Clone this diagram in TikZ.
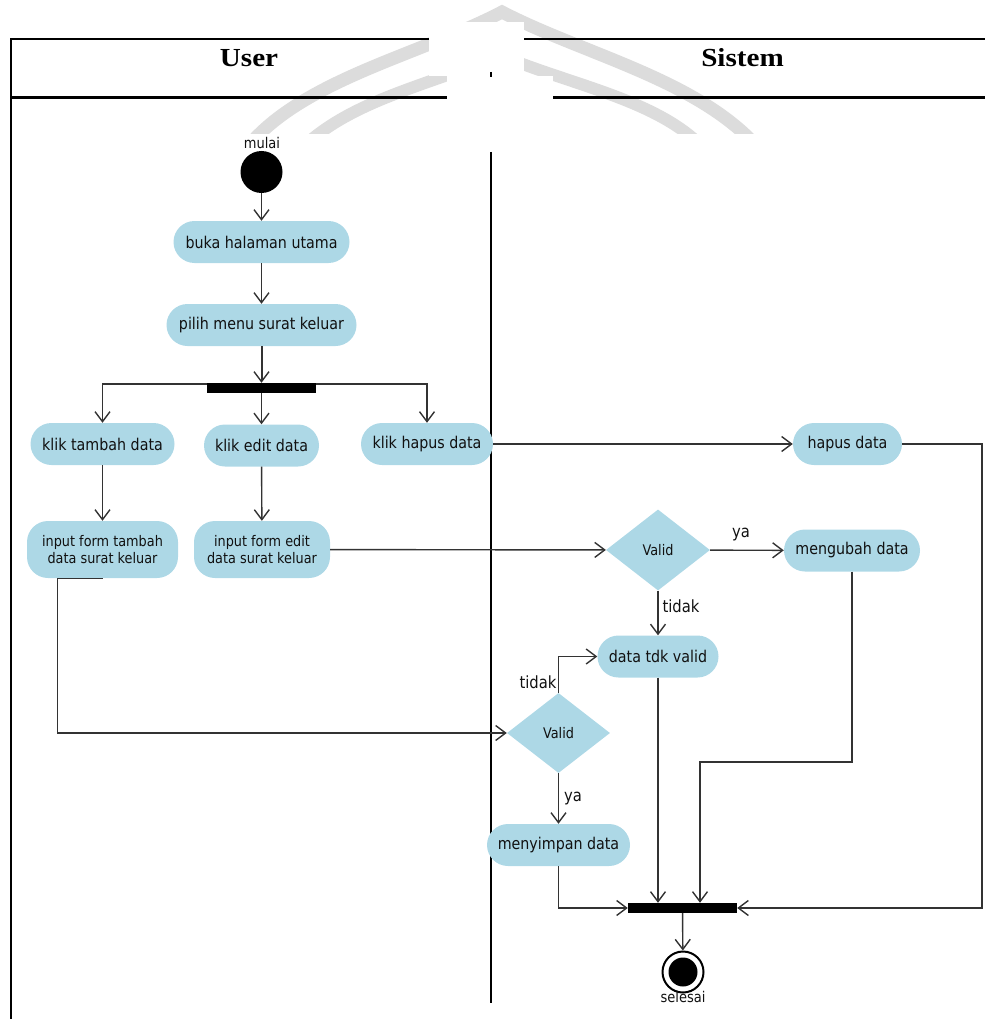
\documentclass[tikz,border=0pt]{standalone}
\usepackage{fontspec}
\setmainfont{DejaVu Sans}[FakeStretch=0.88]
\newfontfamily\hdrfont{Liberation Serif}[FakeStretch=1.12]
\usetikzlibrary{arrows.meta,shapes.geometric,calc}
\definecolor{actfill}{HTML}{ADD8E6}
\definecolor{linecol}{HTML}{333333}
\definecolor{txtcol}{HTML}{111111}
\definecolor{wmark}{HTML}{DCDCDC}

\begin{document}
\begin{tikzpicture}[x=1pt,y=-1pt,
  act/.style={shape=rectangle, fill=actfill, rounded corners=21pt, minimum height=42pt,
    inner sep=0pt, text=txtcol, font=\fontsize{16.2}{18}\selectfont, align=center},
  act2/.style={act, minimum height=57pt, font=\fontsize{14.6}{17}\selectfont},
  dec/.style={shape=diamond, fill=actfill, inner sep=0pt, minimum width=104pt,
    minimum height=81pt, text=txtcol, font=\fontsize{14.6}{16}\selectfont},
  bar/.style={shape=rectangle, fill=black, inner sep=0pt, minimum width=109pt, minimum height=10pt},
  flow/.style={draw=linecol, line width=1.4pt,
    -{Straight Barb[length=10pt,width=15pt,line width=1.4pt]}},
  lbl/.style={text=txtcol, font=\fontsize{16.8}{18}\selectfont, inner sep=0pt},
  small/.style={text=txtcol, font=\fontsize{14.8}{16}\selectfont, inner sep=0pt},
  frame/.style={draw=black, line width=2.6pt},
  hdr/.style={font=\hdrfont\bfseries\fontsize{26}{30}\selectfont, inner sep=0pt}
]
\useasboundingbox (0,0) rectangle (985,1019);

% faint background emblem
\begin{scope}
  \clip (0,0) rectangle (985,134);
  \draw[wmark, line width=13pt] (245,150) .. controls (300,80) and (420,55) .. (502,12)
    .. controls (585,55) and (700,80) .. (760,150);
  \draw[wmark, line width=12pt] (300,150) .. controls (350,100) and (430,85) .. (500,55)
    .. controls (570,85) and (660,100) .. (705,150);
\end{scope}
\fill[white] (429,22) rectangle (524,76);
\fill[white] (447,76) rectangle (553,134);

% swimlane frame
\draw[frame] (429,39) -- (11,39) -- (11,1019);
\draw[frame] (524,39) -- (985,39);
\draw[frame] (11,97.5) -- (447,97.5);
\draw[frame] (553,97.5) -- (985,97.5);
\draw[black, line width=1.6pt] (491,72) -- (491,77);
\draw[black, line width=1.6pt] (491,152) -- (491,1003);
\node[hdr] (userH) at (249,58) {User};
\node[hdr] (sysH) at (742.5,58) {Sistem};

% user lane
\node[circle, fill=black, minimum size=42pt, inner sep=0pt] (start) at (261.5,172) {};
\node[small] (startL) at (262,143) {mulai};
\node[act, minimum width=176pt] (buka) at (261.5,242) {buka halaman utama};
\node[act, minimum width=190pt] (pilih) at (261.5,325) {pilih menu surat keluar};
\node[bar] (fork) at (261.5,388) {};
\node[act, minimum width=144pt] (tambah) at (102.5,444) {klik tambah data};
\node[act, minimum width=115pt] (edit) at (261.5,445.5) {klik edit data};
\node[act, minimum width=132pt] (hapusk) at (427,444) {klik hapus data};
\node[act2, minimum width=151pt] (inTambah) at (102.5,549.5) {input form tambah\\data surat keluar};
\node[act2, minimum width=136pt] (inEdit) at (262,549.5) {input form edit\\data surat keluar};

% system lane
\node[act, minimum width=109pt] (hapusd) at (847.5,444) {hapus data};
\node[dec] (valid1) at (658,550) {Valid};
\node[act, minimum width=136pt] (mengubah) at (852,550.5) {mengubah data};
\node[act, minimum width=121pt] (datatdk) at (658,656.5) {data tdk valid};
\node[dec, minimum width=103pt, minimum height=80pt] (valid2) at (558.5,733) {Valid};
\node[act, minimum width=143pt] (menyimpan) at (558.5,845) {menyimpan data};
\node[bar] (join) at (682.5,908) {};
\node[circle, draw=black, line width=2pt, minimum size=41pt, inner sep=0pt] (end) at (683,972) {};
\node[circle, fill=black, minimum size=29pt, inner sep=0pt] (endIn) at (end.center) {};
\node[small] (endL) at (683,997) {selesai};

% guard labels
\node[lbl] (yaA) at (741,535) {ya};
\node[lbl] (tidakA) at (681,606) {tidak};
\node[lbl] (tidakB) at (538,682) {tidak};
\node[lbl] (yaB) at (573,799) {ya};

% flows
\draw[flow] (start) -- (buka);
\draw[flow] (buka) -- (pilih);
\draw[flow, line width=2pt] (pilih) -- (fork);
\draw[flow] ([yshift=-1pt]fork.north west) -| (tambah.north);
\draw[flow] (fork) -- (edit);
\draw[flow] ([yshift=-1pt]fork.north east) -| (hapusk.north);
\draw[flow] (tambah) -- (inTambah);
\draw[flow] (edit) -- (inEdit);
\draw[flow] (hapusk) -- (hapusd);
\draw[flow] (inEdit) -- (valid1);
\draw[flow] (valid1) -- (mengubah);
\draw[flow] (valid1) -- (datatdk);
\draw[flow] (inTambah.south) -- ++(-45,0) |- (valid2.west);
\draw[flow] (valid2.north) |- (datatdk.west);
\draw[flow] (valid2) -- (menyimpan);
\draw[flow] (menyimpan.south) |- (join.west);
\draw[flow] (datatdk.south) -- (datatdk.south |- join.north);
\coordinate (bendA) at (700,762);
\draw[flow] (mengubah.south) |- (bendA) -- (bendA |- join.north);
\coordinate (bendB) at (982,444);
\draw[flow] (hapusd.east) -- (bendB) |- (join.east);
\draw[flow] (join) -- (end);
\end{tikzpicture}
\end{document}
